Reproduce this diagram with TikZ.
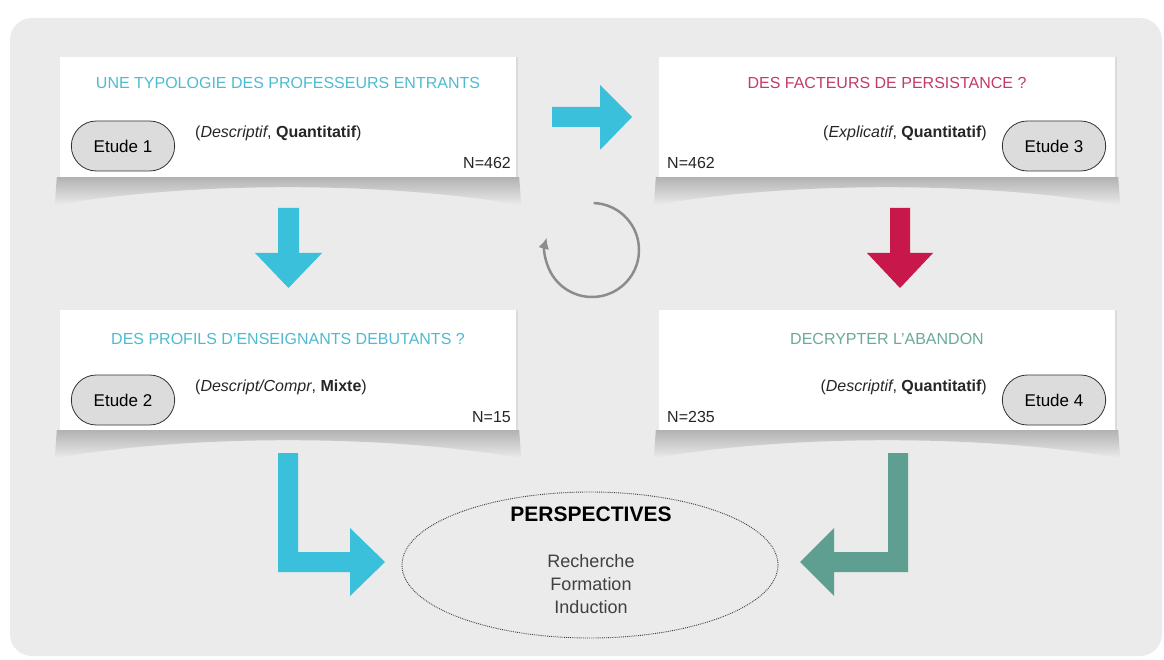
\documentclass[tikz,border=0pt]{standalone}
\usepackage{fontspec}
\setmainfont{Liberation Sans}
\usetikzlibrary{positioning,shapes.geometric,shapes.misc,arrows.meta,shadows}
\definecolor{fond}{HTML}{EBEBEB}
\definecolor{cyanfl}{HTML}{3AC0DA}
\definecolor{cyantxt}{HTML}{4DBBD3}
\definecolor{rougefl}{HTML}{C8174A}
\definecolor{rougetxt}{HTML}{C43A68}
\definecolor{vertfl}{HTML}{5F9F91}
\definecolor{verttxt}{HTML}{6AAA9B}
\definecolor{pilule}{HTML}{DCDCDC}
\definecolor{gris}{HTML}{8C8C8C}
\tikzset{
  boite/.style={fill=white, minimum width=456pt, minimum height=120pt, inner sep=0pt,
    drop shadow={opacity=0.15, shadow xshift=2pt, shadow yshift=0pt}},
  ombre/.style={top color=black!30, middle color=black!15, bottom color=fond},
  titre/.style={font=\fontsize{16}{19}\selectfont},
  texte/.style={font=\fontsize{16}{19}\selectfont, text=black!85, inner sep=0pt},
  etude/.style={draw=black!80, fill=pilule, rounded rectangle, line width=0.8pt,
    minimum width=110pt, minimum height=50pt, font=\fontsize{17}{20}\selectfont},
}
\begin{document}
\begin{tikzpicture}[x=1pt,y=-1pt]
  \useasboundingbox (0,0) rectangle (1164,660);
  \fill[white] (0,0) rectangle (1164,660);
  \fill[fond, rounded corners=22] (10,18) rectangle (1162,656);

  % les quatre etudes
  \node[boite] (b1) at (288,117) {};
  \node[boite] (b3) at (887,117) {};
  \node[boite] (b2) at (288,370) {};
  \node[boite] (b4) at (887,370) {};
  \foreach \b in {b1,b2,b3,b4}
    \shade[ombre]
      ([xshift=-3pt]\b.south west) -- ([xshift=3pt]\b.south east)
      -- ([shift={(5,28)}]\b.south east)
      .. controls ([shift={(-130,4)}]\b.south east) and ([shift={(130,4)}]\b.south west)
      .. ([shift={(-5,28)}]\b.south west) -- cycle;

  \node[titre, text=cyantxt] (t1) at (288,83) {UNE TYPOLOGIE DES PROFESSEURS ENTRANTS};
  \node[titre, text=rougetxt] (t3) at (887,83) {DES FACTEURS DE PERSISTANCE ?};
  \node[titre, text=cyantxt] (t2) at (288,339) {DES PROFILS D'ENSEIGNANTS DEBUTANTS ?};
  \node[titre, text=verttxt] (t4) at (887,339) {DECRYPTER L'ABANDON};

  \node[etude] (e1) at (123,146) {Etude 1};
  \node[etude] (e3) at (1054,146) {Etude 3};
  \node[etude] (e2) at (123,400) {Etude 2};
  \node[etude] (e4) at (1054,400) {Etude 4};

  \node[texte, anchor=west] (m1) at (195,133) {(\textit{Descriptif}, \textbf{Quantitatif})};
  \node[texte, anchor=east] (m3) at (987,133) {(\textit{Explicatif}, \textbf{Quantitatif})};
  \node[texte, anchor=west] (m2) at (195,387) {(\textit{Descript/Compr}, \textbf{Mixte})};
  \node[texte, anchor=east] (m4) at (987,387) {(\textit{Descriptif}, \textbf{Quantitatif})};

  \node[texte, anchor=east] (n1) at (511,163) {N=462};
  \node[texte, anchor=west] (n3) at (667,163) {N=462};
  \node[texte, anchor=east] (n2) at (511,417) {N=15};
  \node[texte, anchor=west] (n4) at (667,417) {N=235};

  % fleches
  \fill[cyanfl] (552,107) -- (600,107) -- (600,85) -- (632,117) -- (600,150) -- (600,127) -- (552,127) -- cycle;
  \fill[cyanfl] (278,208) -- (299,208) -- (299,253) -- (322,253) -- (288.5,288) -- (255,253) -- (278,253) -- cycle;
  \fill[rougefl] (890,208) -- (910,208) -- (910,253) -- (933,253) -- (900,288) -- (867,253) -- (890,253) -- cycle;
  \fill[cyanfl] (278,453) -- (298,453) -- (298,552) -- (350,552) -- (350,528) -- (385,562) -- (350,596) -- (350,572) -- (278,572) -- cycle;
  \fill[vertfl] (908,453) -- (888,453) -- (888,552) -- (834,552) -- (834,528) -- (800,562) -- (834,596) -- (834,572) -- (908,572) -- cycle;
  \draw[gris, line width=2.5pt, -{Latex[length=11pt,width=11pt]}] (592,250) ++(-88:47) arc[start angle=-88, end angle=195, radius=47];

  % perspectives
  \node[ellipse, draw=black!75, densely dotted, line width=0.9pt, minimum width=376pt, minimum height=146pt] (persp) at (590,565) {};
  \node[font=\fontsize{21}{24}\selectfont\bfseries] (titp) at (591,514) {PERSPECTIVES};
  \node[align=center, font=\fontsize{18}{23}\selectfont, text=black!75, below=26pt of titp] (liste) {Recherche\\Formation\\Induction};
\end{tikzpicture}
\end{document}
